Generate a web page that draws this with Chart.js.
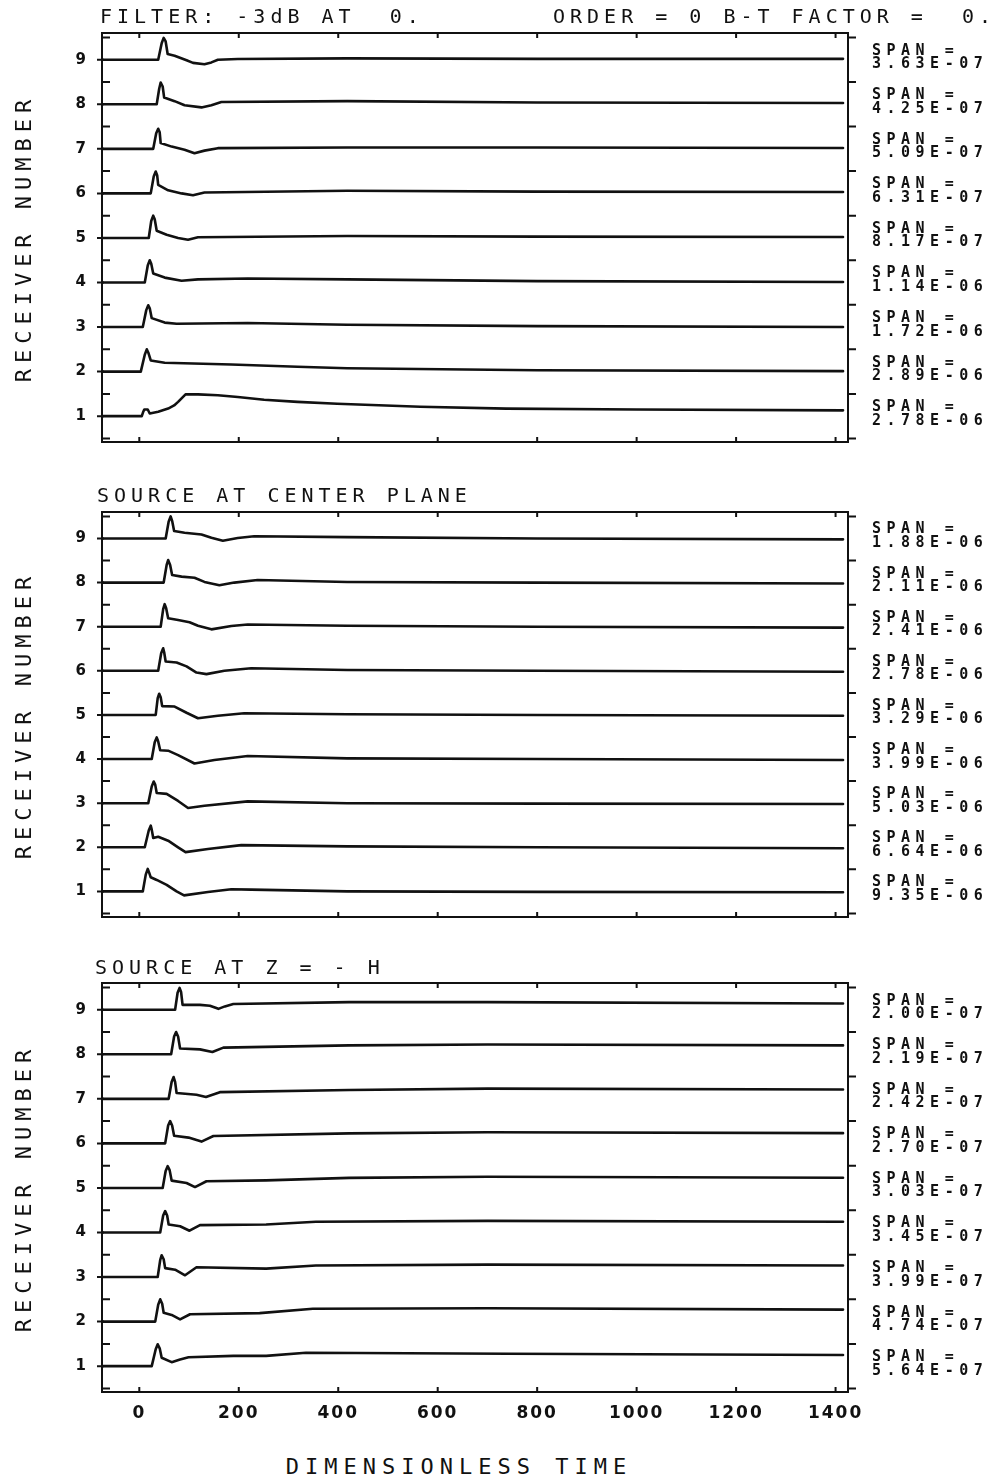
<!DOCTYPE html>
<html><head><meta charset="utf-8">
<script src="https://cdn.jsdelivr.net/npm/chart.js@4.4.1/dist/chart.umd.min.js"></script>
<style>
html,body{margin:0;padding:0;background:#fff;}
#wrap{position:relative;width:999px;height:1484px;overflow:hidden;background:#fff;}
#wrap canvas{position:absolute;left:0;}
.t{position:absolute;white-space:pre;color:#111;font-family:"DejaVu Sans Mono",monospace;font-weight:normal;line-height:1;}
</style></head>
<body><div id="wrap"></div>
<script>
// ---------------- DATA ----------------
const rows = [1,2,3,4,5,6,7,8,9];
const xTickValues = [0,200,400,600,800,1000,1200,1400];
const yHalfTicks = [0.5,1.5,2.5,3.5,4.5,5.5,6.5,7.5,8.5,9.5];

// Each trace: [time, offset from its receiver baseline (in receiver units)]
// Panel 1: FILTER ...
const p1r9 = [[-75,0],[38,0],[45,0.37],[49,0.49],[53,0.41],[57,0.13],[71,0.09],[95,-0.01],[108,-0.07],[131,-0.1],[145,-0.06],[158,0],[198,0.015],[418,0.03],[800,0.02],[1415,0.02]];
const p1r8 = [[-75,0],[35,0],[40,0.35],[43,0.49],[47,0.4],[50,0.15],[71,0.07],[91,-0.02],[125,-0.07],[145,-0.02],[165,0.05],[418,0.07],[800,0.04],[1415,0.03]];
const p1r7 = [[-75,0],[28,0],[34,0.35],[38,0.45],[41,0.37],[43,0.13],[65,0.05],[91,-0.02],[111,-0.1],[131,-0.04],[158,0.015],[418,0.03],[800,0.03],[1415,0.02]];
const p1r6 = [[-75,0],[23,0],[29,0.38],[33,0.49],[36,0.4],[38,0.19],[58,0.07],[85,0],[108,-0.04],[131,0.02],[418,0.06],[800,0.04],[1415,0.03]];
const p1r5 = [[-75,0],[19,0],[24,0.38],[28,0.5],[31,0.42],[35,0.16],[55,0.07],[78,0],[98,-0.04],[118,0.015],[418,0.045],[800,0.03],[1415,0.02]];
const p1r4 = [[-75,0],[11,0],[17,0.38],[21,0.5],[24,0.42],[28,0.2],[51,0.11],[85,0.04],[118,0.07],[218,0.09],[418,0.07],[800,0.03],[1415,0.01]];
const p1r3 = [[-75,0],[7,0],[14,0.38],[18,0.49],[21,0.42],[25,0.2],[51,0.1],[75,0.075],[218,0.09],[418,0.05],[800,0.02],[1415,0]];
const p1r2 = [[-75,0],[3,0],[11,0.38],[15,0.5],[18,0.43],[23,0.25],[51,0.2],[185,0.16],[318,0.11],[418,0.075],[800,0.03],[1415,0.01]];
const p1r1 = [[-75,0],[5,0],[8,0.1],[10,0.15],[17,0.15],[21,0.06],[38,0.1],[58,0.17],[70,0.24],[78,0.32],[86,0.41],[93,0.49],[118,0.49],[158,0.47],[198,0.43],[251,0.37],[318,0.32],[398,0.28],[565,0.21],[738,0.17],[1000,0.15],[1415,0.13]];

// Panel 2: SOURCE AT CENTER PLANE
const p2r9 = [[-75,0],[53,0],[59,0.38],[63,0.5],[66,0.4],[70,0.17],[91,0.13],[125,0.09],[145,0.015],[168,-0.05],[198,0.01],[231,0.05],[418,0.03],[800,0],[1415,-0.02]];
const p2r8 = [[-75,0],[49,0],[55,0.4],[58,0.51],[62,0.4],[66,0.17],[85,0.135],[111,0.11],[131,0.015],[161,-0.06],[191,0],[238,0.06],[418,0.015],[800,0],[1415,-0.02]];
const p2r7 = [[-75,0],[43,0],[48,0.4],[51,0.51],[54,0.42],[58,0.19],[78,0.15],[101,0.1],[118,0.02],[145,-0.06],[185,0.015],[218,0.05],[418,0.02],[800,0],[1415,-0.02]];
const p2r6 = [[-75,0],[38,0],[44,0.4],[48,0.51],[50,0.42],[53,0.21],[75,0.19],[95,0.1],[115,-0.04],[135,-0.075],[171,0],[225,0.06],[418,0.02],[800,0],[1415,-0.02]];
const p2r5 = [[-75,0],[33,0],[37,0.38],[40,0.48],[43,0.4],[46,0.2],[71,0.19],[95,0.05],[118,-0.075],[158,-0.02],[211,0.04],[418,0.015],[800,0],[1415,-0.02]];
const p2r4 = [[-75,0],[25,0],[31,0.38],[35,0.49],[38,0.4],[42,0.2],[58,0.19],[78,0.09],[111,-0.1],[151,-0.02],[218,0.07],[418,0.015],[800,0],[1415,-0.02]];
const p2r3 = [[-75,0],[18,0],[25,0.38],[29,0.49],[32,0.42],[35,0.23],[55,0.21],[78,0.05],[98,-0.11],[131,-0.06],[218,0.04],[418,0],[800,-0.01],[1415,-0.02]];
const p2r2 = [[-75,0],[11,0],[19,0.38],[23,0.49],[25,0.4],[28,0.21],[38,0.24],[58,0.15],[78,0],[93,-0.11],[138,-0.04],[205,0.05],[418,0.02],[800,0],[1415,-0.02]];
const p2r1 = [[-75,0],[7,0],[13,0.38],[17,0.51],[20,0.42],[23,0.32],[35,0.26],[55,0.15],[75,0],[90,-0.09],[138,-0.015],[185,0.05],[225,0.04],[418,0],[800,-0.01],[1415,-0.02]];

// Panel 3: SOURCE AT Z = - H
const p3r9 = [[-75,0],[72,0],[77,0.38],[81,0.49],[84,0.4],[87,0.11],[122,0.11],[142,0.09],[159,0.02],[172,0.075],[189,0.13],[422,0.17],[700,0.17],[1415,0.14]];
const p3r8 = [[-75,0],[64,0],[70,0.4],[74,0.5],[78,0.4],[82,0.13],[122,0.11],[147,0.05],[169,0.15],[422,0.2],[700,0.22],[1415,0.2]];
const p3r7 = [[-75,0],[59,0],[65,0.38],[69,0.49],[72,0.38],[75,0.13],[115,0.09],[134,0.04],[162,0.15],[422,0.2],[700,0.23],[1415,0.21]];
const p3r6 = [[-75,0],[52,0],[58,0.4],[62,0.5],[66,0.4],[70,0.17],[99,0.13],[125,0.04],[149,0.165],[422,0.225],[700,0.25],[1415,0.23]];
const p3r5 = [[-75,0],[47,0],[53,0.38],[57,0.49],[61,0.4],[65,0.165],[95,0.11],[112,0.02],[135,0.15],[255,0.17],[422,0.225],[700,0.25],[1415,0.23]];
const p3r4 = [[-75,0],[42,0],[48,0.38],[52,0.48],[56,0.38],[59,0.18],[82,0.14],[101,0.04],[122,0.165],[255,0.18],[355,0.24],[700,0.26],[1415,0.24]];
const p3r3 = [[-75,0],[37,0],[42,0.38],[45,0.49],[49,0.4],[52,0.2],[72,0.165],[92,0.04],[115,0.22],[255,0.19],[355,0.26],[700,0.28],[1415,0.26]];
const p3r2 = [[-75,0],[32,0],[38,0.38],[42,0.5],[46,0.4],[49,0.2],[65,0.15],[82,0.05],[102,0.165],[242,0.19],[349,0.29],[700,0.3],[1415,0.27]];
const p3r1 = [[-75,0],[25,0],[33,0.38],[37,0.49],[41,0.4],[45,0.19],[65,0.09],[82,0.15],[99,0.2],[189,0.23],[255,0.23],[335,0.3],[742,0.28],[1415,0.25]];

// SPAN labels, receiver 1..9
const spansP1 = ["2.78E-06","2.89E-06","1.72E-06","1.14E-06","8.17E-07","6.31E-07","5.09E-07","4.25E-07","3.63E-07"];
const spansP2 = ["9.35E-06","6.64E-06","5.03E-06","3.99E-06","3.29E-06","2.78E-06","2.41E-06","2.11E-06","1.88E-06"];
const spansP3 = ["5.64E-07","4.74E-07","3.99E-07","3.45E-07","3.03E-07","2.70E-07","2.42E-07","2.19E-07","2.00E-07"];

const titleLeft = "FILTER: -3dB AT  0.";
const titleRight = "ORDER = 0 B-T FACTOR =  0.";
const subTitle2 = "SOURCE AT CENTER PLANE";
const subTitle3 = "SOURCE AT Z = - H";
const yTitle = "RECEIVER NUMBER";
const xTitle = "DIMENSIONLESS TIME";

// ---------------- LAYOUT ----------------
const X_MIN = -75, X_MAX = 1425, Y_MIN = 0.42, Y_MAX = 9.6;
const PLOT_TOPS = [33, 512, 983];
const PLOT_H = [409, 405, 409];
const panels = [
  {traces:[p1r1,p1r2,p1r3,p1r4,p1r5,p1r6,p1r7,p1r8,p1r9], spans:spansP1},
  {traces:[p2r1,p2r2,p2r3,p2r4,p2r5,p2r6,p2r7,p2r8,p2r9], spans:spansP2},
  {traces:[p3r1,p3r2,p3r3,p3r4,p3r5,p3r6,p3r7,p3r8,p3r9], spans:spansP3}
];
const INK = '#111';
const wrap = document.getElementById('wrap');

const framePlugin = {
  id:'frame',
  beforeDraw(chart){ chart.ctx.letterSpacing = '2px'; },
  afterDatasetsDraw(chart){
    const {ctx, chartArea:a, scales:{x, y}} = chart;
    ctx.save();
    ctx.strokeStyle = INK; ctx.lineWidth = 2;
    ctx.strokeRect(a.left, a.top, a.right - a.left, a.bottom - a.top);
    ctx.beginPath();
    rows.forEach(r => { const py = y.getPixelForValue(r); ctx.moveTo(a.left - 5, py); ctx.lineTo(a.left + 2, py); });
    yHalfTicks.forEach(v => {
      const py = y.getPixelForValue(v);
      ctx.moveTo(a.left, py); ctx.lineTo(a.left + 8, py);
      ctx.moveTo(a.right, py); ctx.lineTo(a.right + 8, py);
    });
    xTickValues.forEach(v => {
      const px = x.getPixelForValue(v);
      ctx.moveTo(px, a.top); ctx.lineTo(px, a.top + 5);
      ctx.moveTo(px, a.bottom); ctx.lineTo(px, a.bottom - 5);
    });
    ctx.stroke();
    ctx.restore();
  }
};

function addText(txt, left, top, size, spacing, extra){
  const d = document.createElement('div');
  d.className = 't';
  d.textContent = txt;
  d.style.left = left + 'px'; d.style.top = top + 'px';
  d.style.fontSize = size + 'px'; d.style.letterSpacing = spacing + 'px';
  if (extra) Object.assign(d.style, extra);
  wrap.appendChild(d);
  return d;
}
function noPad(s){ s.paddingTop = 0; s.paddingBottom = 0; s.paddingLeft = 0; s.paddingRight = 0; }

const charts = [];
panels.forEach((p, i) => {
  const last = i === 2;
  const cv = document.createElement('canvas');
  const bottomH = last ? 45 : 10;
  cv.width = 999; cv.height = PLOT_H[i] + 10 + bottomH;
  cv.style.top = (PLOT_TOPS[i] - 10) + 'px';
  wrap.appendChild(cv);
  const datasets = p.traces.map((tr, k) => ({
    data: tr.map(pt => ({x: pt[0], y: rows[k] + pt[1]})),
    borderColor: INK, borderWidth: 2.6, pointRadius: 0, tension: 0, fill: false,
    borderJoinStyle: 'round', borderCapStyle: 'round'
  }));
  const chart = new Chart(cv.getContext('2d'), {
    type: 'line',
    data: {datasets},
    options: {
      responsive: false, animation: false, events: [],
      layout: {padding: {top: 10, left: 0, right: 151, bottom: last ? 0 : 10}},
      plugins: {legend: {display: false}, tooltip: {enabled: false}},
      scales: {
        x: {
          type: 'linear', min: X_MIN, max: X_MAX,
          grid: {display: false, drawTicks: false}, border: {display: false},
          ticks: {display: last, color: INK, padding: 11, maxRotation: 0, autoSkip: false,
                  callback: v => String(v),
                  font: {family: 'DejaVu Sans', size: 17, weight: 'bold'}},
          afterBuildTicks: s => { s.ticks = xTickValues.map(v => ({value: v})); },
          afterFit: s => { s.height = last ? 45 : 0; noPad(s); }
        },
        y: {
          type: 'linear', min: Y_MIN, max: Y_MAX,
          grid: {display: false, drawTicks: false}, border: {display: false},
          ticks: {color: INK, padding: 14, callback: v => String(v),
                  font: {family: 'DejaVu Sans', size: 15, weight: 'bold'}},
          afterBuildTicks: s => { s.ticks = rows.map(v => ({value: v})); },
          afterFit: s => { s.width = 102; noPad(s); }
        }
      }
    },
    plugins: [framePlugin]
  });
  charts.push(chart);

  // SPAN labels, positioned from the chart's own y scale
  rows.forEach((r, k) => {
    const py = PLOT_TOPS[i] - 10 + chart.scales.y.getPixelForValue(r);
    addText('SPAN =\n' + p.spans[k], 872, py - 16, 15, 5.5, {lineHeight: '13.5px', fontWeight: '600'});
  });

  // Y axis title
  const cy = (PLOT_TOPS[i] + PLOT_TOPS[i] + PLOT_H[i]) / 2;
  addText(yTitle, 24 - 200, cy - 11, 22, 6, {width: '400px', textAlign: 'center', transform: 'rotate(-90deg)', transformOrigin: '50% 50%', lineHeight: '22px'});
});

addText(titleLeft, 100, 6, 20, 5);
addText(titleRight, 553, 6, 20, 5);
addText(subTitle2, 97, 485, 20, 5);
addText(subTitle3, 95, 957, 20, 5);
addText(xTitle, 459 - 300, 1456, 22, 6, {width: '600px', textAlign: 'center'});
</script>
</body></html>
